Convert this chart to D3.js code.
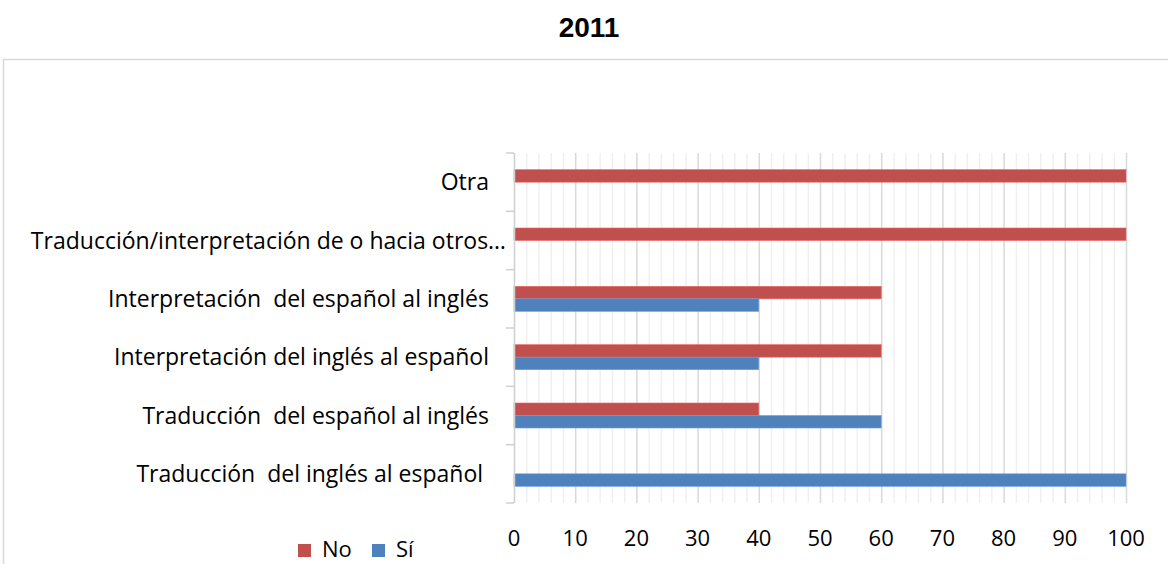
<!DOCTYPE html>
<html>
<head>
<meta charset="utf-8">
<script src="https://cdn.jsdelivr.net/npm/d3@7"></script>
<style>
  html, body { margin: 0; padding: 0; background: #fff; }
  svg { display: block; }
  text { font-family: "Open Sans", Lato, sans-serif; fill: #000; }
</style>
</head>
<body>
<svg id="chart" width="1168" height="564"></svg>
<script>
// ---- data ----
const title = "2011";
const categories = [
  "Otra",
  "Traducción/interpretación de o hacia otros…",
  "Interpretación  del español al inglés",
  "Interpretación del inglés al español",
  "Traducción  del español al inglés",
  "Traducción  del inglés al español "
];
const seriesNames = ["No", "Sí"];
const noValues = [100, 100, 60, 60, 40, 0];
const siValues = [0, 0, 40, 40, 60, 100];
const xTicks = [0, 10, 20, 30, 40, 50, 60, 70, 80, 90, 100];
const colors = ["#C0504D", "#4F81BD"];

// ---- layout ----
const svg = d3.select("#chart");
const W = 1168, H = 564;
const plot = { left: 514, right: 1126, top: 153, bottom: 503 };

// outer border
svg.append("rect")
  .attr("x", 3.5).attr("y", 59.5)
  .attr("width", W + 10).attr("height", H + 10)
  .attr("fill", "none").attr("stroke", "#d9d9d9").attr("stroke-width", 1.5);

// title
svg.append("text")
  .attr("x", 589).attr("y", 37)
  .attr("text-anchor", "middle")
  .style("font-family", "'Liberation Sans', Arial, sans-serif")
  .style("font-weight", "bold")
  .style("font-size", "28px")
  .text(title);

const x = d3.scaleLinear().domain([0, 100]).range([plot.left, plot.right]);
const y0 = d3.scaleBand().domain(categories).range([plot.top, plot.bottom]).padding(0);
const step = y0.bandwidth();
const groupH = 25;
const y1 = d3.scaleBand().domain(seriesNames).range([0, groupH]).padding(0);

// gridlines
const gridVals = d3.range(2, 101, 2);
svg.append("g").selectAll("line").data(gridVals).join("line")
  .attr("x1", d => x(d) + 0.5).attr("x2", d => x(d) + 0.5)
  .attr("y1", plot.top).attr("y2", plot.bottom)
  .attr("stroke", d => d % 10 === 0 ? "#d9d9d9" : "#f0f0f0")
  .attr("stroke-width", 1.5);

// bars
const series = [noValues, siValues];
const gBars = svg.append("g");
series.forEach((vals, si) => {
  gBars.selectAll(null).data(categories).join("rect")
    .attr("x", x(0))
    .attr("y", (c) => y0(c) + (step - groupH) / 2 + y1(seriesNames[si]))
    .attr("width", (c, i) => x(vals[i]) - x(0))
    .attr("height", y1.bandwidth())
    .attr("fill", colors[si])
    .attr("stroke", d3.color(colors[si]).brighter(0.6))
    .attr("stroke-width", 0.6);
});

// y axis line and ticks
const gy = svg.append("g");
gy.append("line")
  .attr("x1", plot.left + 0.5).attr("x2", plot.left + 0.5)
  .attr("y1", plot.top).attr("y2", plot.bottom)
  .attr("stroke", "#d0d0d0").attr("stroke-width", 1.5);
const boundaries = categories.map(c => y0(c)).concat([plot.bottom]);
gy.selectAll("line.tk").data(boundaries).join("line")
  .attr("class", "tk")
  .attr("x1", plot.left - 8).attr("x2", plot.left)
  .attr("y1", d => d).attr("y2", d => d)
  .attr("stroke", "#d0d0d0").attr("stroke-width", 1.5);

// category labels
gy.selectAll("text").data(categories).join("text")
  .attr("x", d => d.endsWith("…") ? 506 : 489)
  .attr("y", d => y0(d) + step / 2)
  .attr("dy", "0.35em")
  .attr("text-anchor", "end")
  .attr("xml:space", "preserve")
  .style("white-space", "pre")
  .style("font-size", "23px")
  .text(d => d);

// x tick labels
svg.append("g").selectAll("text").data(xTicks).join("text")
  .attr("x", d => x(d))
  .attr("y", 546)
  .attr("text-anchor", "middle")
  .style("font-size", "22px")
  .text(d => d);

// legend
const legX = [298, 372];
const leg = svg.append("g");
seriesNames.forEach((n, i) => {
  leg.append("rect")
    .attr("x", legX[i]).attr("y", 544)
    .attr("width", 13).attr("height", 13)
    .attr("fill", colors[i]);
  leg.append("text")
    .attr("x", legX[i] + 24).attr("y", 557)
    .style("font-size", "22px")
    .text(n);
});
</script>
</body>
</html>
